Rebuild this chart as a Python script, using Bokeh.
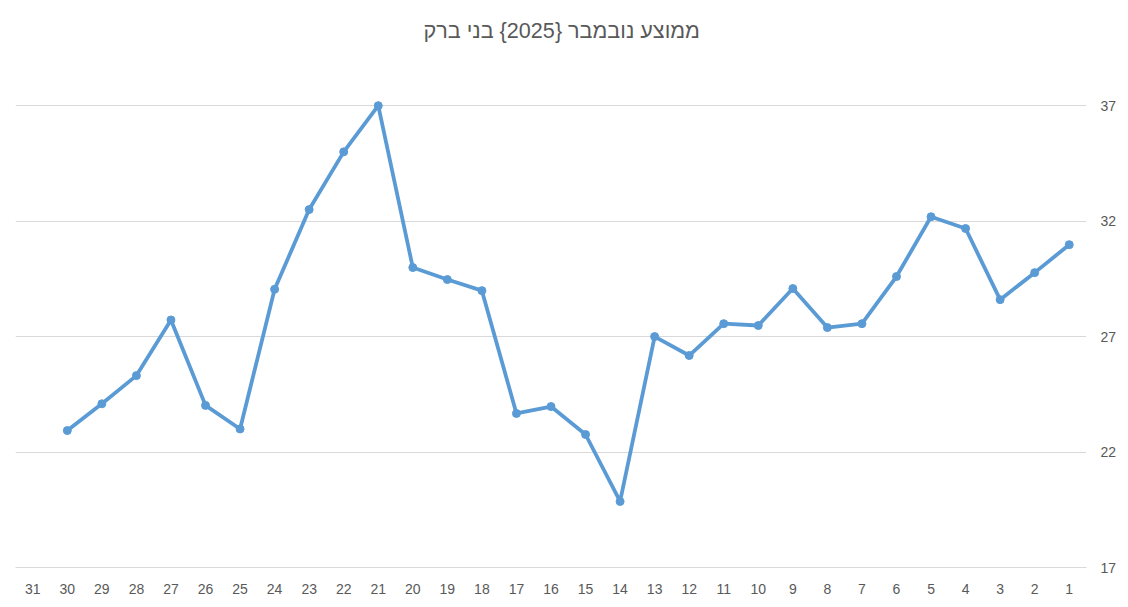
import numpy as np

from bokeh.plotting import figure
from bokeh.models import ColumnDataSource, FactorRange, LinearAxis, Range1d
from bokeh.embed import file_html
from bokeh.resources import INLINE


title_text = "ממוצע נובמבר {2025} בני ברק"

days = [str(d) for d in range(1, 32)]
# daily average, day 1 .. day 31 (31 has no value)
avg = [30.98, 29.77, 28.6, 31.68, 32.19, 29.6, 27.56, 27.39, 29.08, 27.48,
       27.56, 26.18, 27.0, 19.86, 22.76, 23.97, 23.67, 28.99, 29.47, 29.99,
       37.0, 35.0, 32.5, 29.05, 23.0, 24.02, 27.72, 25.31, 24.09, 22.93,
       np.nan]
y_ticks = [17, 22, 27, 32, 37]

gray_text = "#595959"
grid_color = "#d9d9d9"
line_color = "#5b9bd5"
font = "Liberation Sans"

source = ColumnDataSource(data=dict(day=days, avg=avg))

p = figure(x_range=FactorRange(*days[::-1]), y_range=Range1d(17, 39),
           width=1126, height=605, output_backend="svg", toolbar_location=None,
           title=title_text, y_axis_location=None,
           min_border_left=15, min_border_right=40, min_border_top=59, min_border_bottom=38)
p.outline_line_color = None
p.background_fill_color = "white"
p.border_fill_color = "white"

p.title.align = "left"
p.title.offset = 408
p.title.vertical_align = "top"
p.title.text_font = font
p.title.text_font_size = "21.6px"
p.title.text_font_style = "normal"
p.title.text_color = gray_text
p.title.standoff = 30

p.line(x='day', y='avg', source=source, line_color=line_color, line_width=3.8)
p.scatter(x='day', y='avg', source=source, size=8, fill_color=line_color,
          line_color=line_color)

yaxis = LinearAxis(ticker=y_ticks)
yaxis.axis_line_color = None
yaxis.major_tick_line_color = None
yaxis.minor_tick_line_color = None
yaxis.major_label_standoff = 8
yaxis.major_label_text_font = font
yaxis.major_label_text_font_size = "14px"
yaxis.major_label_text_color = gray_text
p.add_layout(yaxis, "right")

p.xaxis.axis_line_color = grid_color
p.xaxis.major_tick_line_color = None
p.xaxis.minor_tick_line_color = None
p.xaxis.major_label_standoff = 10
p.xaxis.major_label_text_font = font
p.xaxis.major_label_text_font_size = "14px"
p.xaxis.major_label_text_color = gray_text

p.xgrid.grid_line_color = None
p.ygrid.ticker = y_ticks
p.ygrid.grid_line_color = grid_color

open("out.html", "w").write(file_html(p, INLINE))
